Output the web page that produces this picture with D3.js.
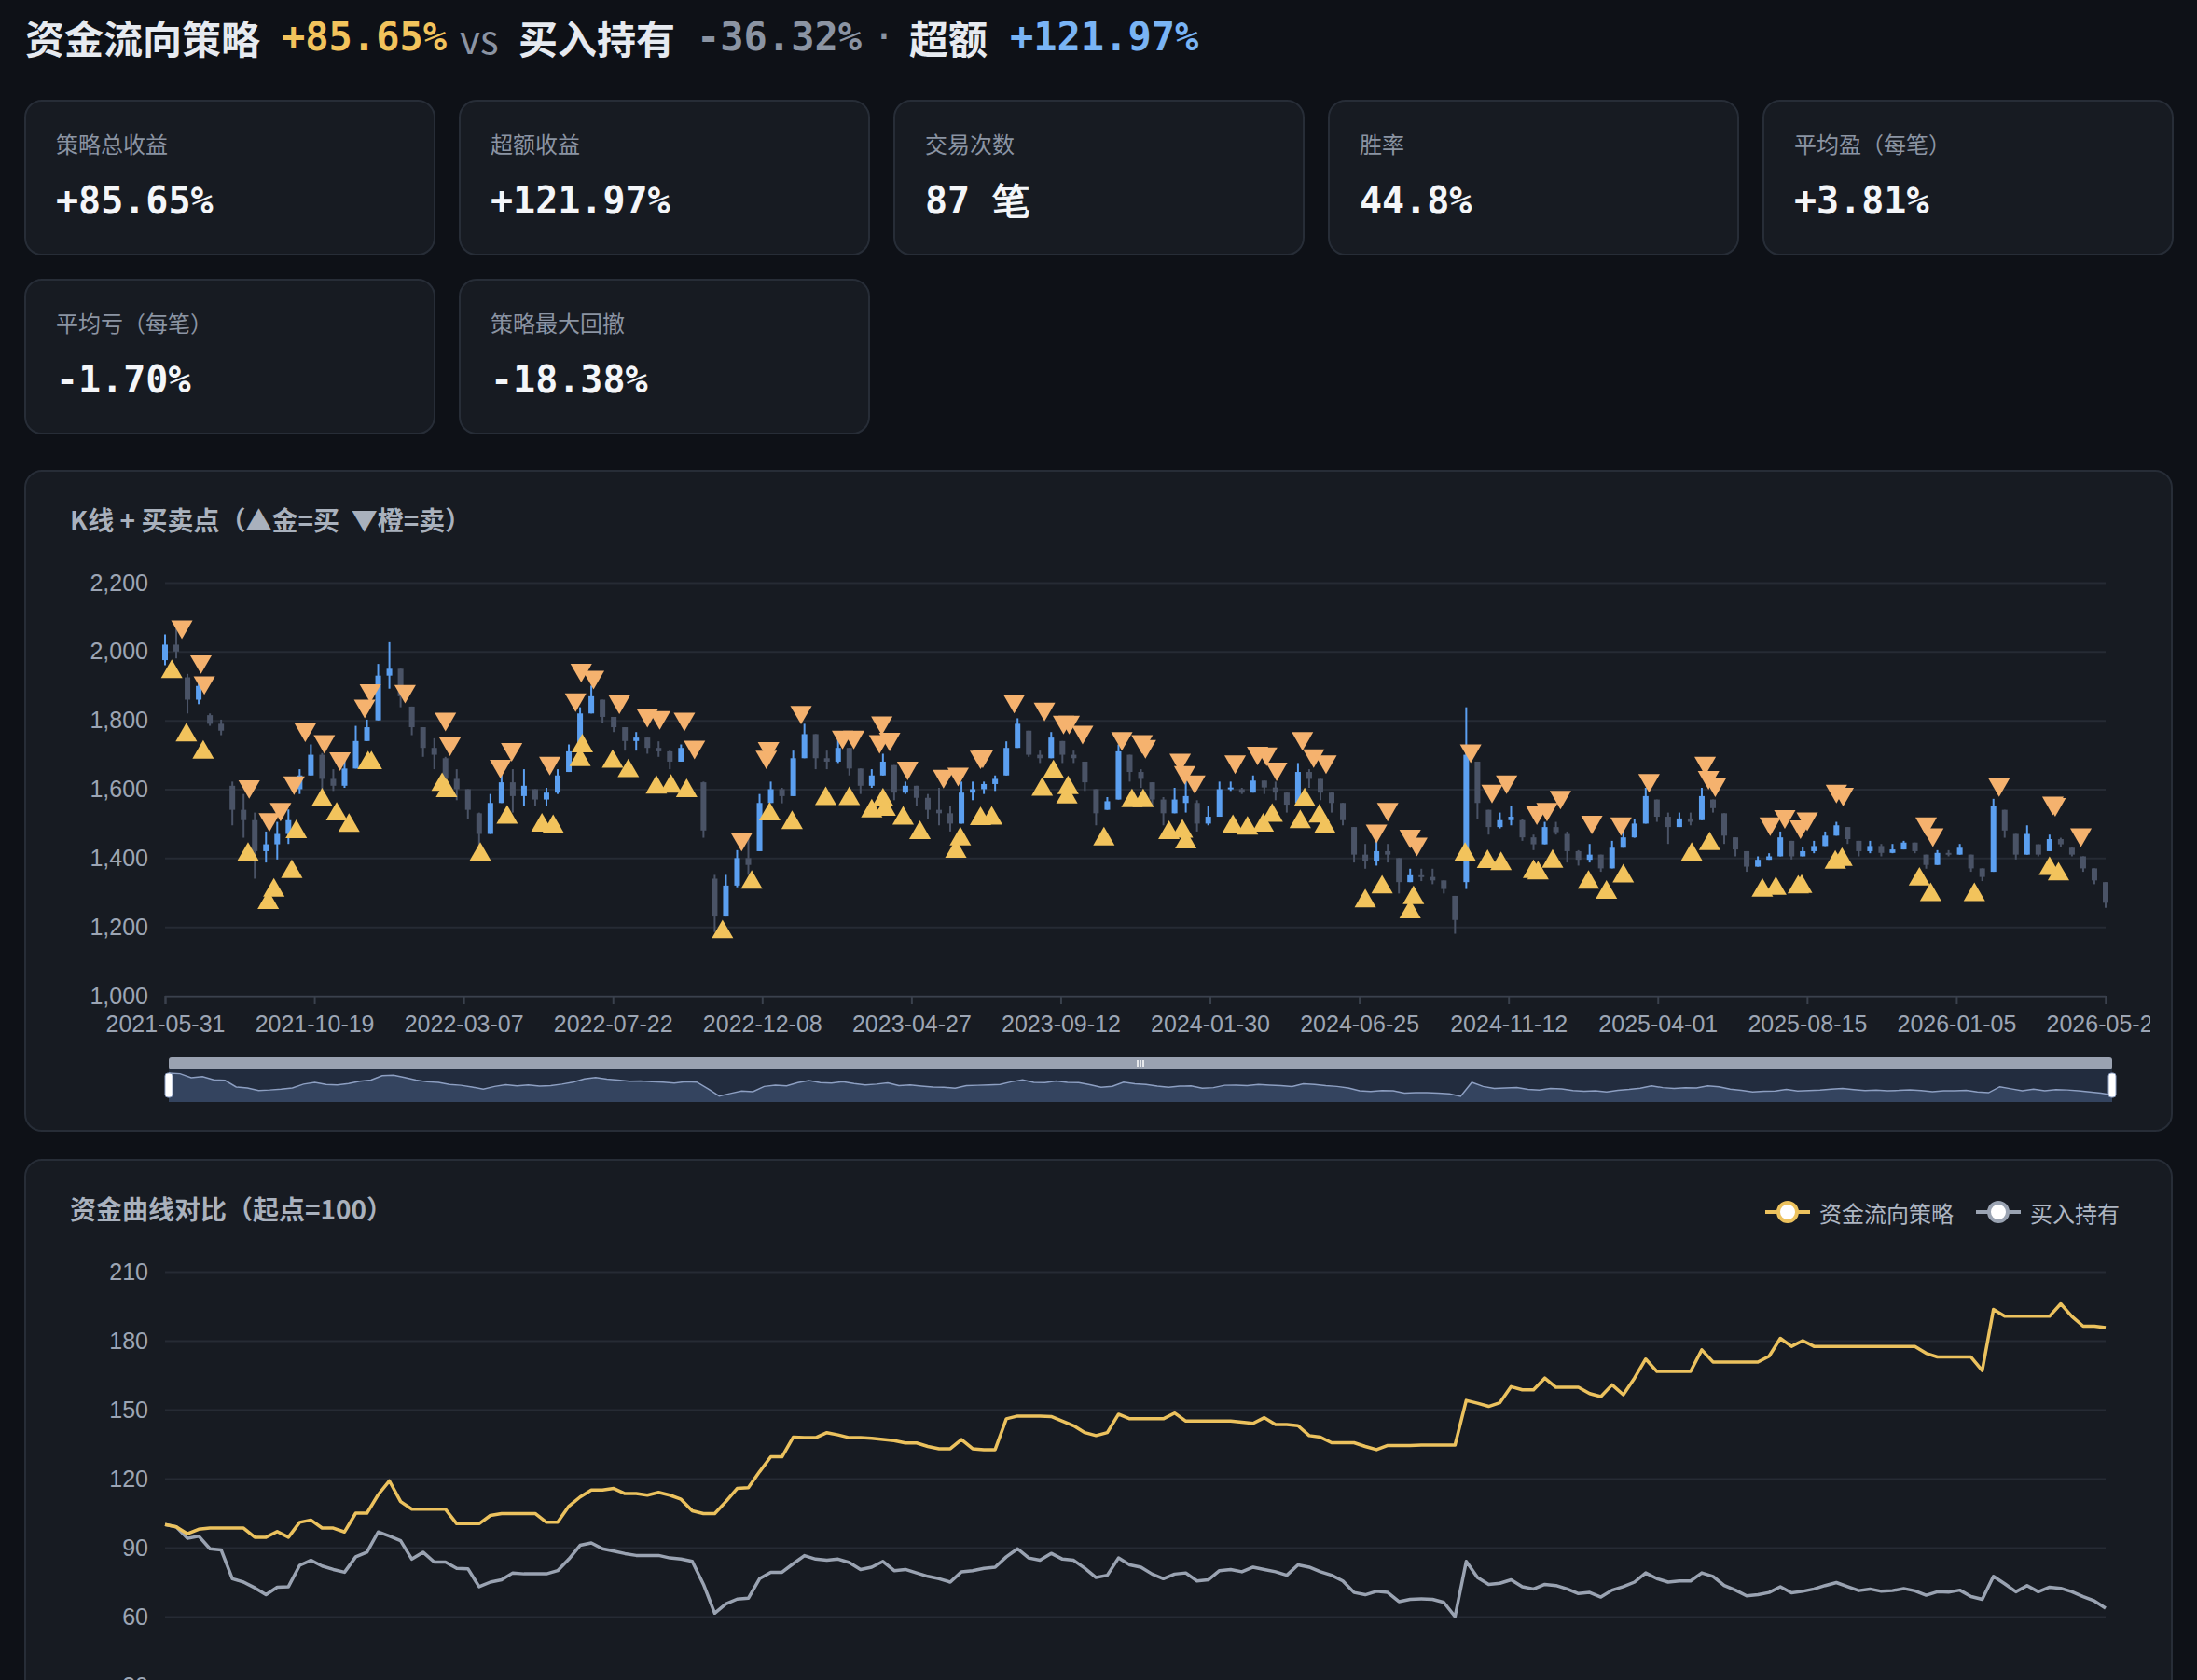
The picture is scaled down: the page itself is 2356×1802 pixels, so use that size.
<!DOCTYPE html>
<html>
<head>
<meta charset="utf-8">
<title>资金流向策略</title>
<script src="https://d3js.org/d3.v7.min.js"></script>
<style>
  body { margin: 0; background: #0e1117; }
  svg { display: block; }
  text { font-family: "Noto Sans CJK SC", "Noto Sans", sans-serif; }
  .mono { font-family: "DejaVu Sans Mono", "Liberation Mono", monospace; }
  .axis text { font-family: "Liberation Sans", Arial, sans-serif; }
</style>
</head>
<body>
<div id="chart"></div>
<script>
// ---- summary numbers ----
var cardLabels = ["策略总收益", "超额收益", "交易次数", "胜率", "平均盈（每笔）", "平均亏（每笔）", "策略最大回撤"];
var cardValues = ["+85.65%", "+121.97%", "87 笔", "44.8%", "+3.81%", "-1.70%", "-18.38%"];

// ---- x axis tick labels (category dates) ----
var dateTicks = ["2021-05-31", "2021-10-19", "2022-03-07", "2022-07-22", "2022-12-08", "2023-04-27",
  "2023-09-12", "2024-01-30", "2024-06-25", "2024-11-12", "2025-04-01", "2025-08-15", "2026-01-05", "2026-05-22"];

// ---- K line (resampled bars) ----
var kOpen = [1975,2020,1925,1860,1815,1790,1610,1540,1510,1420,1440,1470,1600,1640,1700,1630,1610,1660,1740,1800,
  1930,1950,1840,1780,1720,1690,1630,1600,1530,1470,1560,1620,1580,1600,1570,1590,1650,1720,1820,1860,
  1810,1780,1740,1750,1720,1710,1680,1720,1620,1340,1230,1320,1400,1420,1560,1600,1580,1690,1760,1690,
  1680,1720,1660,1610,1640,1670,1590,1610,1575,1540,1530,1500,1590,1600,1615,1640,1720,1770,1700,1690,
  1740,1700,1680,1600,1540,1570,1700,1650,1620,1570,1530,1560,1560,1500,1520,1600,1600,1590,1625,1605,
  1590,1560,1650,1630,1590,1560,1490,1410,1390,1420,1400,1330,1350,1345,1335,1290,1330,1680,1540,1490,
  1510,1510,1460,1440,1490,1470,1420,1395,1410,1370,1430,1460,1500,1570,1520,1490,1515,1510,1570,1530,
  1460,1420,1375,1395,1405,1450,1405,1420,1435,1465,1490,1450,1420,1435,1415,1425,1445,1410,1380,1415,
  1410,1410,1370,1360,1540,1470,1410,1440,1420,1455,1430,1405,1370,1330];
var kClose = [2020,2000,1860,1900,1790,1770,1540,1510,1420,1440,1470,1510,1640,1700,1630,1610,1660,1740,1780,1930,
  1950,1870,1780,1720,1700,1630,1600,1540,1470,1560,1620,1580,1610,1570,1590,1640,1710,1820,1870,1810,
  1780,1740,1750,1720,1710,1680,1720,1710,1480,1230,1320,1400,1380,1560,1600,1580,1690,1760,1690,1680,
  1720,1660,1610,1640,1680,1590,1610,1575,1540,1530,1500,1590,1600,1615,1630,1720,1790,1700,1690,1750,
  1700,1690,1620,1530,1565,1710,1650,1630,1570,1530,1570,1580,1500,1520,1600,1605,1590,1625,1605,1590,
  1555,1650,1630,1590,1560,1510,1410,1390,1420,1410,1330,1350,1345,1335,1310,1220,1700,1560,1490,1510,
  1520,1460,1440,1490,1475,1420,1395,1410,1370,1430,1460,1500,1580,1520,1490,1515,1505,1580,1545,1465,
  1425,1375,1395,1405,1460,1405,1420,1435,1465,1495,1455,1420,1435,1415,1425,1445,1420,1380,1415,1410,
  1430,1370,1345,1550,1480,1410,1470,1410,1455,1440,1410,1370,1335,1270];
var kLow = [1960,1980,1820,1847,1784,1757,1495,1459,1340,1387,1396,1441,1586,1640,1586,1595,1604,1660,1740,1800,
  1892,1838,1757,1694,1658,1604,1568,1514,1414,1470,1560,1532,1550,1550,1550,1586,1650,1720,1820,1793,
  1766,1712,1712,1703,1694,1658,1680,1703,1459,1185,1230,1315,1351,1420,1560,1559,1580,1690,1658,1658,
  1676,1640,1586,1604,1640,1568,1586,1550,1514,1495,1477,1500,1568,1586,1595,1640,1720,1694,1676,1690,
  1676,1676,1595,1495,1540,1570,1622,1604,1550,1495,1530,1532,1477,1495,1520,1595,1586,1590,1586,1568,
  1532,1560,1604,1568,1532,1495,1387,1369,1378,1387,1297,1330,1333,1324,1297,1180,1310,1514,1468,1486,
  1495,1450,1423,1440,1468,1387,1378,1387,1360,1370,1430,1459,1500,1505,1441,1490,1495,1510,1532,1441,
  1405,1360,1375,1395,1405,1396,1405,1414,1435,1465,1441,1405,1414,1405,1414,1425,1414,1369,1380,1405,
  1410,1360,1333,1360,1459,1396,1410,1405,1420,1432,1405,1360,1324,1255];
var kHigh = [2050,2075,1935,1919,1820,1802,1622,1586,1532,1477,1505,1541,1658,1730,1705,1658,1694,1784,1802,1964,
  2027,1950,1840,1780,1748,1694,1658,1600,1532,1586,1658,1658,1658,1600,1604,1658,1730,1838,1901,1860,
  1810,1780,1766,1750,1739,1712,1730,1730,1622,1351,1351,1423,1459,1586,1622,1604,1712,1790,1760,1712,
  1748,1720,1660,1658,1703,1670,1622,1610,1586,1604,1550,1622,1622,1622,1640,1739,1806,1770,1712,1766,
  1740,1712,1680,1600,1577,1730,1700,1658,1620,1577,1604,1622,1568,1550,1622,1622,1604,1640,1625,1622,
  1590,1676,1658,1630,1590,1560,1490,1441,1459,1441,1400,1369,1369,1369,1335,1290,1838,1680,1540,1532,
  1550,1514,1468,1505,1505,1477,1423,1441,1410,1450,1477,1514,1604,1570,1532,1532,1532,1604,1570,1530,
  1460,1420,1405,1414,1477,1450,1432,1450,1477,1505,1490,1450,1450,1441,1441,1450,1445,1410,1423,1423,
  1441,1410,1370,1572,1540,1470,1495,1440,1468,1459,1430,1405,1370,1330];

// ---- trade markers: bar position and price ----
var buyIdx = [0.6,1.9,3.4,7.4,9.2,9.7,11.3,11.7,14,15.3,16.4,18.1,18.4,24.7,25.1,28.1,30.5,33.6,34.6,37,
  37.2,39.9,41.3,43.8,45.1,46.5,49.7,52.3,53.9,55.9,58.9,61,63,64,64.2,65.8,67.3,70.5,70.9,72.7,
  73.7,78.2,79.2,80.5,80.4,83.7,86.2,87.2,89.5,90.7,91,95.2,96.5,97.9,98.7,101.2,101.6,102.9,103.4,107,
  108.5,111,111.3,115.9,117.9,119.1,122,122.4,123.7,126.9,128.5,130,136.1,137.7,142.4,143.6,145.6,145.9,148.9,149.5,
  156.4,157.4,161.3,168,168.8];
var buyPrice = [1941,1757,1707,1410,1270,1306,1360,1476,1568,1527,1494,1676,1676,1613,1595,1410,1518,1495,1491,1685,
  1725,1680,1653,1605,1608,1595,1185,1329,1527,1502,1572,1572,1536,1568,1541,1515,1473,1419,1455,1514,
  1515,1599,1650,1604,1577,1455,1566,1566,1473,1477,1446,1491,1486,1495,1523,1505,1569,1521,1491,1275,
  1315,1243,1284,1410,1389,1383,1360,1356,1390,1329,1300,1347,1410,1441,1306,1311,1315,1317,1387,1395,
  1338,1293,1293,1369,1353];
var sellIdx = [1.5,3.2,3.5,7.5,9.3,10.3,11.5,12.5,14.2,15.6,17.8,18.3,21.4,25,25.4,29.9,30.9,34.3,36.6,37.1,
  38.2,40.5,43,44.1,46.3,47.2,51.4,53.6,53.8,56.7,60.4,61.4,63.7,63.9,64.6,66.2,69.4,70.7,72.7,72.9,
  75.7,78.4,80.1,80.6,81.8,85.3,87.1,87.4,90.5,90.9,91.8,95.4,97.4,98.2,99.1,101.4,102.4,103.5,108,109,
  111,111.6,116.4,118.3,119.6,122.3,123.2,124.4,127.2,129.8,132.3,137.3,137.6,138.2,143.1,144.4,145.8,146.4,149,149.6,
  157,157.6,163.5,168.3,168.5,170.8];
var sellPrice = [2072,1971,1910,1608,1512,1542,1619,1773,1739,1689,1842,1887,1885,1804,1732,1667,1716,1676,1860,1946,
  1926,1854,1815,1809,1804,1723,1455,1694,1719,1824,1752,1752,1739,1793,1746,1662,1638,1644,1694,1697,
  1856,1833,1795,1795,1766,1748,1739,1725,1685,1649,1622,1680,1705,1703,1659,1748,1698,1680,1479,1542,
  1464,1441,1712,1595,1622,1532,1542,1577,1505,1500,1626,1676,1635,1613,1500,1521,1491,1514,1595,1586,
  1500,1468,1614,1560,1556,1468];

// ---- equity curves (start = 100) ----
var strategyEquity = [100,99,96,98,98.5,98.5,98.5,98.5,94.5,94.5,97,94.5,101,102,98.5,98.5,96.8,105,105,113,
  119,110,106.7,106.7,106.7,106.7,100.4,100.4,100.4,104,104.8,104.8,104.8,104.8,101,101,108,112,115,115,
  115.7,113.5,113.5,112.8,114,112.8,111,106,104.8,104.8,110,115.7,116,123,129.5,129.5,138,137.8,137.8,140,
  139,137.8,137.8,137.5,137,136.5,135.5,135.5,134,133,133,137,133,132.6,132.6,146,147.2,147.2,147.2,147,
  145,143,140,138.7,140,148,146,146,146,146,148.5,145,145,145,145,145,144.5,144,146.5,143.5,
  143.5,143,138.7,138,135.6,135.6,135.6,134,132.6,134.4,134.4,134.4,134.6,134.6,134.6,134.6,154,152.8,151.4,153,
  160,158.6,158.6,163.7,159.7,159.7,159.7,157,155.7,160.8,156.5,163.7,172,166.6,166.6,166.6,166.6,176,170.7,170.7,
  170.7,170.7,170.7,173.2,181,177.5,180,177.5,177.5,177.5,177.5,177.5,177.5,177.5,177.5,177.5,177.5,174.5,172.9,172.9,
  172.9,172.9,167,193.6,190.6,190.6,190.6,190.6,190.6,196,190.5,186.3,186.3,185.65];
var holdEquity = [100,99,94,95,89.5,89,76.5,75,72.5,69.5,72.8,73,82.3,84.5,82,80.5,79.3,86,88,96.8,
  95,93,85,88,83.7,83.7,81,80.8,73,75,76,79,78.6,78.6,78.6,80,85,91,92,89.5,
  88.5,87.4,86.6,86.6,86.6,85.5,85,84,74,61.5,65.5,67.6,68,76.5,79.3,79.3,83,86.5,85,84.5,
  85,83.5,80.5,81.5,84,80,80.5,79,77.5,76.5,75,79.5,80,81,81.5,86,89.5,85.5,84.5,87.5,
  85,84.5,81,77,78,85.5,82.5,81.5,78.5,76.5,78.5,79,75.5,76,80,80.5,79.5,81.5,80.5,79.5,
  78,82.5,81.5,79.5,78,75.5,70.5,69.5,71,70.5,66.5,67.5,67.7,67.5,66.2,60,84,77,74,74.5,
  76,73,72,74,73.5,72,70,70.5,68.5,71.5,73,75,79,76.5,75,75.5,75.5,79,77.5,73.5,
  71.5,69,69.5,70.5,73,70.3,71,72,73.5,74.8,73,71.3,72,71,71.3,72.2,71.2,69.3,70.8,70.6,
  71.5,68.7,67.5,77.5,74.3,70.8,73.5,70.8,72.8,72.3,70.8,68.7,66.8,63.68];

var seriesNames = ["资金流向策略", "买入持有"];

// ---- colours ----
var C = {
  page: "#0e1117", panel: "#171b22", border: "#272d37", grid: "#262b34", axis: "#3a414d",
  text: "#e6eaf0", muted: "#8b94a3", tick: "#9ca5b4", title: "#a9b1bd",
  gold: "#f2c35c", orange: "#f5b26e", blue: "#79b4f5", up: "#5b9ff0", down: "#4a5366",
  strat: "#ecc25e", hold: "#9aa3b2"
};

var W = 2356, H = 1802;
var svg = d3.select("#chart").append("svg").attr("width", W).attr("height", H);
svg.append("rect").attr("width", W).attr("height", H).attr("fill", C.page);

// ---- headline ----
var head = svg.append("g").attr("font-size", 42).attr("font-weight", 700);
var headParts = [
  { t: "资金流向策略", x: 27, c: C.text, mono: false },
  { t: cardValues[0], x: 302, c: C.gold, mono: true },
  { t: "vs", x: 493, c: C.muted, mono: false, w: 400 },
  { t: "买入持有", x: 556, c: C.text, mono: false },
  { t: "-36.32%", x: 747, c: C.muted, mono: true },
  { t: "·", x: 948, c: C.muted, mono: true, w: 400, mid: true },
  { t: "超额", x: 975, c: C.text, mono: false },
  { t: cardValues[1], x: 1083, c: C.blue, mono: true }
];
headParts.forEach(function(p) {
  head.append("text").attr("x", p.x).attr("y", 39).attr("dominant-baseline", "central")
    .attr("class", p.mono ? "mono" : null).attr("fill", p.c)
    .attr("text-anchor", p.mid ? "middle" : "start")
    .attr("font-weight", p.w || 700).text(p.t);
});

// ---- stat cards ----
var cards = svg.selectAll(".card").data(cardLabels).enter().append("g")
  .attr("class", "card")
  .attr("transform", function(d, i) { return "translate(" + (27 + (i % 5) * 466) + "," + (108 + Math.floor(i / 5) * 192) + ")"; });
cards.append("rect").attr("width", 439).attr("height", 165).attr("rx", 18)
  .attr("fill", C.panel).attr("stroke", C.border).attr("stroke-width", 2);
cards.append("text").attr("x", 33).attr("y", 45).attr("dominant-baseline", "central")
  .attr("font-size", 24).attr("fill", C.muted).text(function(d) { return d; });
cards.append("text").attr("x", 33).attr("y", 107).attr("dominant-baseline", "central")
  .attr("class", "mono").attr("font-size", 40).attr("font-weight", 700).attr("fill", "#f4f6f9")
  .text(function(d, i) { return cardValues[i]; });

// ---- panels ----
function panel(y, h, title) {
  svg.append("rect").attr("x", 27).attr("y", y).attr("width", 2302).attr("height", h).attr("rx", 18)
    .attr("fill", C.panel).attr("stroke", C.border).attr("stroke-width", 2);
  svg.append("text").attr("x", 75).attr("y", y + 52).attr("dominant-baseline", "central")
    .attr("font-size", 28).attr("font-weight", 700).attr("fill", C.title).text(title);
}
panel(505, 708, "K线 + 买卖点（▲金=买\u00a0\u00a0▼橙=卖）");
panel(1244, 640, "资金曲线对比（起点=100）");

var N = kClose.length;
var x0 = 177, x1 = 2258;
var x = d3.scaleLinear().domain([0, N - 1]).range([x0, x1]);
var xTick = d3.scalePoint().domain(dateTicks).range([x0, x1]);

// ---- K chart ----
var yK = d3.scaleLinear().domain([1000, 2200]).range([1068, 625]);
var gK = svg.append("g").attr("class", "axis");
gK.append("g").attr("transform", "translate(" + x1 + ",0)")
  .call(d3.axisLeft(yK).tickValues(d3.range(1000, 2201, 200)).tickSize(x1 - x0).tickFormat(d3.format(",")).tickPadding(18))
  .call(function(g) {
    g.select(".domain").remove();
    g.selectAll("line").attr("stroke", C.grid).attr("stroke-width", 2);
    g.selectAll("text").attr("font-size", 25).attr("fill", C.tick);
  });

svg.append("clipPath").attr("id", "clipAxis").append("rect").attr("x", 0).attr("y", 0).attr("width", 2306).attr("height", H);
gK.append("g").attr("transform", "translate(0,1068)").attr("clip-path", "url(#clipAxis)")
  .call(d3.axisBottom(xTick).tickSize(9).tickPadding(12))
  .call(function(g) {
    g.select(".domain").attr("stroke", C.axis).attr("stroke-width", 2);
    g.selectAll("line").attr("stroke", C.axis).attr("stroke-width", 2);
    g.selectAll("text").attr("font-size", 25).attr("fill", C.tick);
  });

var bw = (x1 - x0) / (N - 1) * 0.5;
var candles = svg.append("g").selectAll("g").data(d3.range(N)).enter().append("g");
candles.append("line")
  .attr("x1", function(i) { return x(i); }).attr("x2", function(i) { return x(i); })
  .attr("y1", function(i) { return yK(kHigh[i]); }).attr("y2", function(i) { return yK(kLow[i]); })
  .attr("stroke", function(i) { return kClose[i] >= kOpen[i] ? C.up : C.down; }).attr("stroke-width", 2);
candles.append("rect")
  .attr("x", function(i) { return x(i) - bw / 2; }).attr("width", bw)
  .attr("y", function(i) { return yK(Math.max(kOpen[i], kClose[i])); })
  .attr("height", function(i) { return Math.max(2, Math.abs(yK(kOpen[i]) - yK(kClose[i]))); })
  .attr("fill", function(i) { return kClose[i] >= kOpen[i] ? C.up : C.down; });

var tri = d3.symbol().type(d3.symbolTriangle).size(230);
svg.append("g").selectAll("path").data(buyIdx).enter().append("path")
  .attr("d", tri)
  .attr("transform", function(d, i) { return "translate(" + x(d) + "," + yK(buyPrice[i]) + ")"; })
  .attr("fill", C.gold);
svg.append("g").selectAll("path").data(sellIdx).enter().append("path")
  .attr("d", tri)
  .attr("transform", function(d, i) { return "translate(" + x(d) + "," + yK(sellPrice[i]) + ") rotate(180)"; })
  .attr("fill", C.orange);

// ---- data zoom slider ----
var zx0 = 181, zx1 = 2265;
var xz = d3.scaleLinear().domain([0, N - 1]).range([zx0, zx1]);
var yz = d3.scaleLinear().domain(d3.extent(kClose)).range([1176, 1151]);
svg.append("rect").attr("x", zx0).attr("y", 1134).attr("width", zx1 - zx0).attr("height", 14).attr("rx", 3).attr("fill", "#9aa2b1");
svg.append("rect").attr("x", zx0).attr("y", 1147).attr("width", zx1 - zx0).attr("height", 35).attr("fill", "#222c3e");
svg.append("path").datum(kClose)
  .attr("d", d3.area().x(function(d, i) { return xz(i); }).y0(1182).y1(function(d) { return yz(d); }))
  .attr("fill", "#34445f");
svg.append("path").datum(kClose)
  .attr("d", d3.line().x(function(d, i) { return xz(i); }).y(function(d) { return yz(d); }))
  .attr("fill", "none").attr("stroke", "#8d9fc2").attr("stroke-width", 1.5);
[zx0, zx1].forEach(function(hx) {
  svg.append("rect").attr("x", hx - 4).attr("y", 1151).attr("width", 8).attr("height", 26).attr("rx", 3)
    .attr("fill", "#ffffff").attr("stroke", "#8d9fc2").attr("stroke-width", 1);
});
[-3, 0, 3].forEach(function(o) {
  svg.append("line").attr("x1", 1223 + o).attr("x2", 1223 + o).attr("y1", 1137).attr("y2", 1144)
    .attr("stroke", "#ffffff").attr("stroke-width", 1.5);
});

// ---- equity chart ----
var yE = d3.scaleLinear().domain([30, 210]).range([1808, 1364]);
var gE = svg.append("g").attr("class", "axis");
gE.append("g").attr("transform", "translate(" + x1 + ",0)")
  .call(d3.axisLeft(yE).tickValues(d3.range(30, 211, 30)).tickSize(x1 - x0).tickPadding(18))
  .call(function(g) {
    g.select(".domain").remove();
    g.selectAll("line").attr("stroke", C.grid).attr("stroke-width", 2);
    g.selectAll("text").attr("font-size", 25).attr("fill", C.tick);
  });

var eqLine = d3.line().x(function(d, i) { return x(i); }).y(function(d) { return yE(d); });
svg.append("path").datum(holdEquity).attr("d", eqLine)
  .attr("fill", "none").attr("stroke", C.hold).attr("stroke-width", 3.5).attr("stroke-linejoin", "round");
svg.append("path").datum(strategyEquity).attr("d", eqLine)
  .attr("fill", "none").attr("stroke", C.strat).attr("stroke-width", 3.5).attr("stroke-linejoin", "round");

// legend
var legend = svg.append("g").selectAll("g").data(seriesNames).enter().append("g")
  .attr("transform", function(d, i) { return "translate(" + (1893 + i * 226) + ",1300)"; });
legend.append("line").attr("x1", 0).attr("x2", 48).attr("y1", 0).attr("y2", 0)
  .attr("stroke", function(d, i) { return i ? C.hold : C.strat; }).attr("stroke-width", 4);
legend.append("circle").attr("cx", 24).attr("cy", 0).attr("r", 10)
  .attr("fill", "#ffffff").attr("stroke", function(d, i) { return i ? C.hold : C.strat; }).attr("stroke-width", 4);
legend.append("text").attr("x", 58).attr("y", 0).attr("dominant-baseline", "central")
  .attr("font-size", 24).attr("fill", "#aeb6c2").text(function(d) { return d; });
</script>
</body>
</html>
